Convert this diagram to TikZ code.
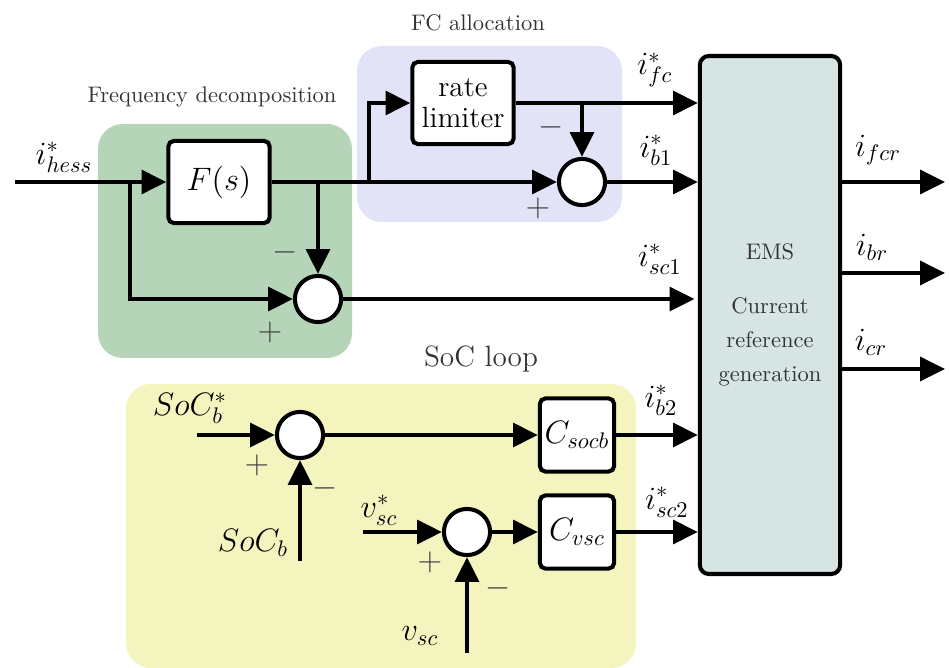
\documentclass[tikz,border=0pt]{standalone}
\usetikzlibrary{arrows.meta}
\definecolor{freqgreen}{RGB}{181,212,184}
\definecolor{fclav}{RGB}{227,227,248}
\definecolor{socyel}{RGB}{243,244,190}
\definecolor{emsgray}{RGB}{214,228,228}
\tikzset{
  blk/.style={draw, line width=1.8pt, rounded corners=2.5pt, fill=white, minimum width=45pt, minimum height=36.5pt, inner sep=2pt, font=\Large},
  ctrl/.style={blk, minimum width=33pt, minimum height=32.5pt},
  sumnode/.style={draw, circle, line width=1.8pt, fill=white, minimum size=20.5pt, inner sep=0pt},
  sig/.style={line width=1.8pt, -{Triangle[length=11pt,width=10.5pt]}},
  zone/.style={rounded corners=11pt},
  lab/.style={font=\Large},
  sgn/.style={font=\Large, text=black!75},
  zonecap/.style={text=black!80},
}
\begin{document}
\begin{tikzpicture}[x=0.444pt,y=-0.444pt]
\useasboundingbox (0,0) rectangle (949,668);
% background zones
\fill[freqgreen,zone] (98,124) rectangle (352,358);
\fill[fclav,zone] (357,46) rectangle (622,222);
\fill[socyel,zone] (126,384) rectangle (636,668);
\node[zonecap] (fdcap) at (212,97) {Frequency decomposition};
\node[zonecap] (fccap) at (478,23) {FC allocation};
\node[zonecap,font=\fontsize{13}{15}\selectfont] (soccap) at (481,359) {SoC loop};
% blocks
\node[blk] (Fs) at (219,182) {$F(s)$};
\node[blk,font=\fontsize{13}{15}\selectfont,align=center] (rate) at (463,103) {rate\\[-1pt]limiter};
\node[sumnode] (sum1) at (318,299) {};
\node[sumnode] (sum2) at (582,182) {};
\node[sumnode] (sum3) at (300,435) {};
\node[sumnode] (sum4) at (467,532) {};
\node[ctrl] (Csocb) at (577,435) {$C_{socb}$};
\node[ctrl] (Cvsc) at (577,532) {$C_{vsc}$};
\node[draw, line width=1.8pt, rounded corners=4pt, fill=emsgray, minimum width=62.3pt, minimum height=230pt, align=center, text=black!80, font=\fontsize{10}{15}\selectfont] (EMS) at (770,315) {EMS\\[9pt]Current\\reference\\generation};
% points
\coordinate (hin) at (15,182);
\coordinate (b1) at (130,182);
\coordinate (bR) at (369,182);
\coordinate (socref) at (197,435);
\coordinate (socmeas) at (300,561);
\coordinate (vref) at (363,532);
\coordinate (vmeas) at (467,653);
\coordinate (o1) at (945,182);
\coordinate (o2) at (945,273);
\coordinate (o3) at (945,369);
% frequency decomposition
\draw[sig] (hin) -- (Fs);
\draw[sig] (b1) |- (sum1);
\draw[sig] (Fs) -- (sum2);
\draw[sig] (Fs -| sum1) -- (sum1);
\draw[sig] (sum1) -- ([xshift=-1.5pt]sum1 -| EMS.west);
% FC allocation
\draw[sig] (bR) |- (rate);
\draw[sig] (rate) -- (rate -| EMS.west);
\draw[sig] (rate -| sum2) -- (sum2);
\draw[sig] (sum2) -- (sum2 -| EMS.west);
% SoC loop
\draw[sig] (socref) -- (sum3);
\draw[sig] (socmeas) -- (sum3);
\draw[sig] (sum3) -- (Csocb);
\draw[sig] (Csocb) -- (Csocb -| EMS.west);
\draw[sig] (vref) -- (sum4);
\draw[sig] (vmeas) -- (sum4);
\draw[sig] (sum4) -- (Cvsc);
\draw[sig] (Cvsc) -- (Cvsc -| EMS.west);
% outputs
\draw[sig] (EMS.east |- o1) -- (o1);
\draw[sig] (EMS.east |- o2) -- (o2);
\draw[sig] (EMS.east |- o3) -- (o3);
% labels
\node[lab] (lhess) at (64,157) {$i^*_{hess}$};
\node[lab] (lfc) at (655,70) {$i^*_{fc}$};
\node[lab] (lb1) at (656,150) {$i^*_{b1}$};
\node[lab] (lsc1) at (660,259) {$i^*_{sc1}$};
\node[lab] (lb2) at (661,400) {$i^*_{b2}$};
\node[lab] (lsc2) at (667,502) {$i^*_{sc2}$};
\node[lab] (lfcr) at (878,150) {$i_{fcr}$};
\node[lab] (lbr) at (872,247) {$i_{br}$};
\node[lab] (lcr) at (871,342) {$i_{cr}$};
\node[lab] (lsocr) at (190,408) {$SoC^*_b$};
\node[lab] (lsocm) at (253,543) {$SoC_b$};
\node[lab] (lvr) at (379,510) {$v^*_{sc}$};
\node[lab] (lvm) at (420,636) {$v_{sc}$};
% signs
\node[sgn] (s1m) at (285,252) {$-$};
\node[sgn] (s1p) at (270,332) {$+$};
\node[sgn] (s2m) at (551,127) {$-$};
\node[sgn] (s2p) at (538,208) {$+$};
\node[sgn] (s3p) at (257,465) {$+$};
\node[sgn] (s3m) at (325,488) {$-$};
\node[sgn] (s4p) at (430,562) {$+$};
\node[sgn] (s4m) at (498,588) {$-$};
\end{tikzpicture}
\end{document}
